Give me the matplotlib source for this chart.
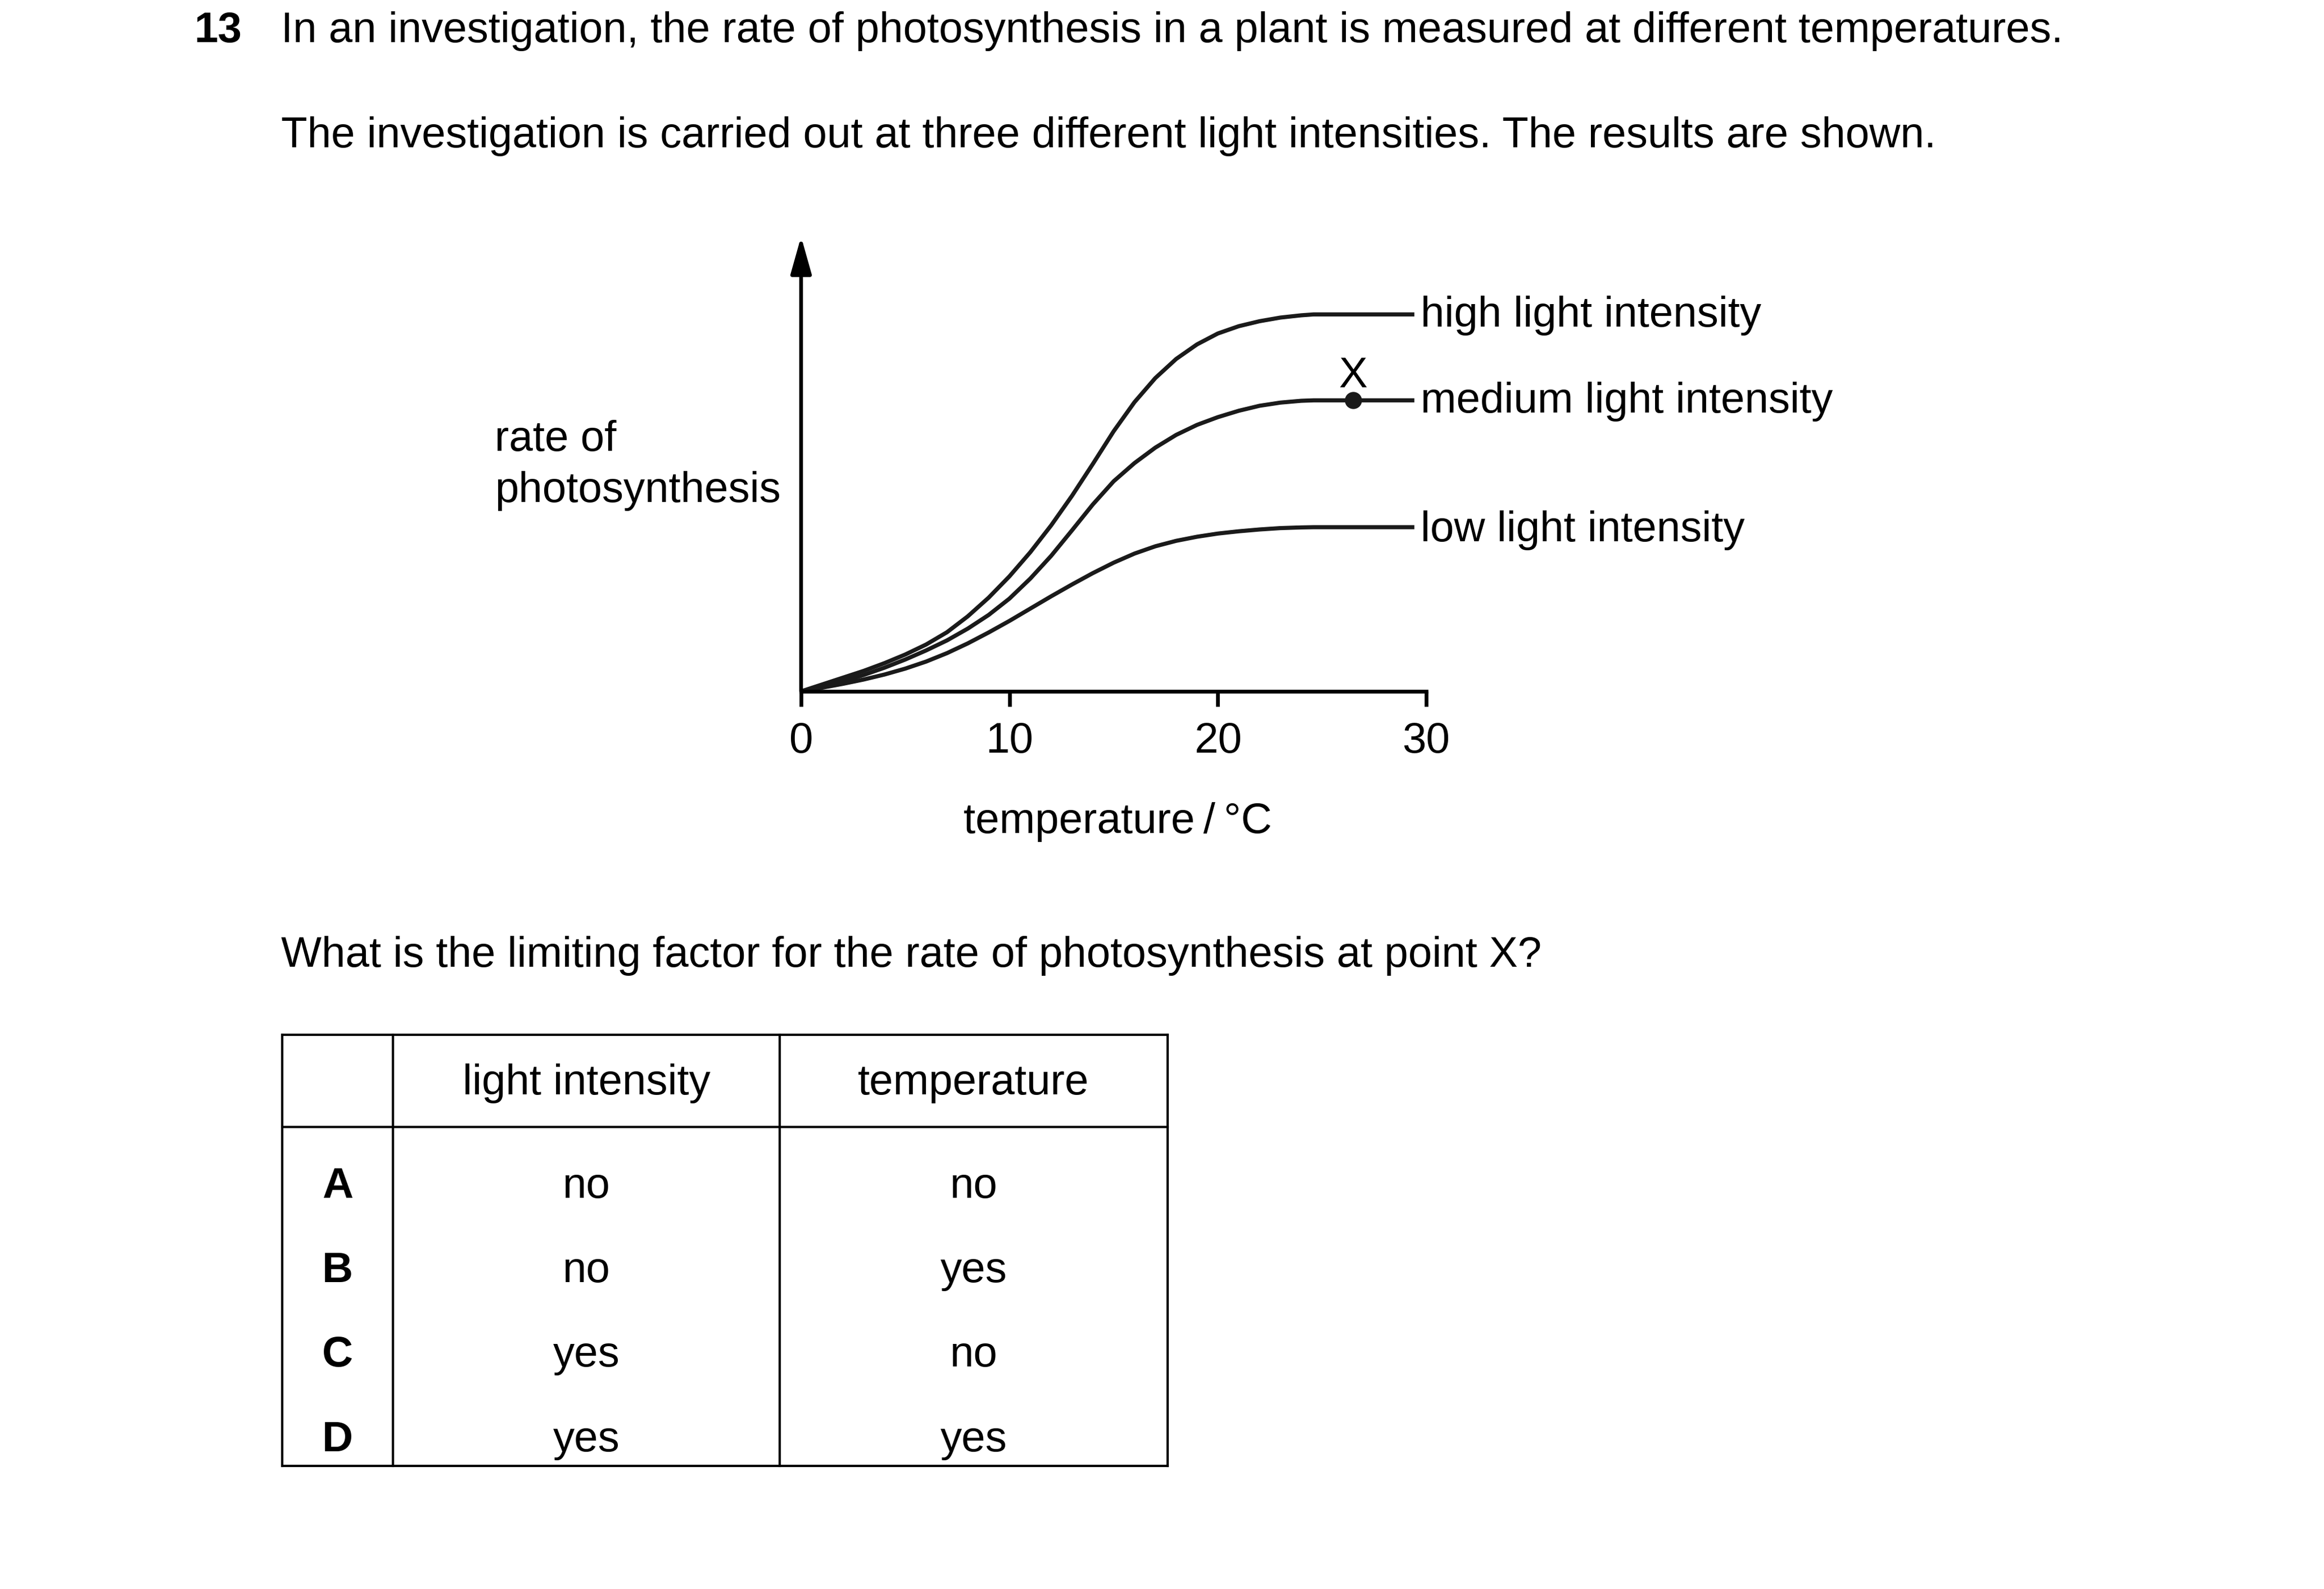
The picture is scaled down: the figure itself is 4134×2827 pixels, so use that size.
import matplotlib
matplotlib.use("Agg")
import matplotlib.pyplot as plt

plt.rcParams['font.family'] = ['Liberation Sans', 'DejaVu Sans']

# temperature / rate readings for the three curves
temps = [0, 1, 2, 3, 4, 5, 6, 7, 8, 9, 10, 11, 12, 13, 14, 15, 16, 17, 18,
         19, 20, 21, 22, 23, 24, 24.6, 29.43]
rate_high = [0, 0.15, 0.30, 0.45, 0.62, 0.81, 1.03, 1.30, 1.65, 2.06, 2.53,
             3.06, 3.65, 4.30, 5.00, 5.72, 6.36, 6.89, 7.31, 7.63, 7.87,
             8.03, 8.14, 8.22, 8.27, 8.29, 8.29]
rate_medium = [0, 0.10, 0.22, 0.36, 0.52, 0.70, 0.90, 1.12, 1.38, 1.68, 2.04,
               2.48, 2.98, 3.54, 4.11, 4.62, 5.02, 5.36, 5.64, 5.86, 6.03,
               6.17, 6.28, 6.35, 6.39, 6.40, 6.40]
rate_low = [0, 0.08, 0.165, 0.26, 0.37, 0.50, 0.655, 0.84, 1.055, 1.295, 1.55,
            1.82, 2.09, 2.35, 2.60, 2.83, 3.03, 3.19, 3.31, 3.40, 3.47,
            3.52, 3.56, 3.59, 3.605, 3.61, 3.61]
point_x = (26.5, 6.40)
xticks = [0, 10, 20, 30]
curve_labels = ['high light intensity', 'medium light intensity', 'low light intensity']

# answer table
options = ['A', 'B', 'C', 'D']
col_heads = ['light intensity', 'temperature']
light_col = ['no', 'no', 'yes', 'yes']
temp_col = ['no', 'yes', 'no', 'yes']

W, H = 4134, 2828
dpi = 300
FS = 18.3
LW = 1.75
AXLW = 1.6

fig = plt.figure(figsize=(W / dpi, H / dpi), dpi=dpi)

# page layer in pixel coordinates
page = fig.add_axes([0, 0, 1, 1])
page.set_xlim(0, W)
page.set_ylim(H, 0)
page.axis('off')

page.text(345, 75, '13', fontsize=FS, fontweight='bold', va='baseline')
page.text(500, 75, 'In an investigation, the rate of photosynthesis in a plant is '
          'measured at different temperatures.', fontsize=FS, va='baseline')
page.text(500, 262, 'The investigation is carried out at three different light '
          'intensities. The results are shown.', fontsize=FS, va='baseline')

page.text(880, 802, 'rate of', fontsize=FS, va='baseline')
page.text(880, 893, 'photosynthesis', fontsize=FS, va='baseline')
page.text(1988, 1482, 'temperature\u2009/\u2009°C', fontsize=FS, ha='center', va='baseline')

for lab, yb in zip(curve_labels, [581, 734, 963]):
    page.text(2527, yb, lab, fontsize=FS, va='baseline')
page.text(2407, 689, 'X', fontsize=FS, ha='center', va='baseline')

page.text(500, 1720, 'What is the limiting factor for the rate of photosynthesis at point X?',
          fontsize=FS, va='baseline')

# table
tx = [502, 699, 1387, 2077]
ty = [1842, 2006, 2609]
for x in tx:
    page.plot([x, x], [ty[0], ty[-1]], color='k', lw=1.0, solid_capstyle='projecting')
for y in ty:
    page.plot([tx[0], tx[-1]], [y, y], color='k', lw=1.0, solid_capstyle='projecting')
col_c = [(tx[i] + tx[i + 1]) / 2 for i in range(3)]
for c, head in zip(col_c[1:], col_heads):
    page.text(c, 1947, head, fontsize=FS, ha='center', va='baseline')
row_base = [2131, 2281, 2431, 2582]
for yb, opt, a, b in zip(row_base, options, light_col, temp_col):
    page.text(col_c[0], yb, opt, fontsize=FS, fontweight='bold', ha='center', va='baseline')
    page.text(col_c[1], yb, a, fontsize=FS, ha='center', va='baseline')
    page.text(col_c[2], yb, b, fontsize=FS, ha='center', va='baseline')

# graph
ax = fig.add_axes([1425 / W, 1 - 1231 / H, (2537 - 1425) / W, (1231 - 422) / H])
ax.patch.set_visible(False)
ax.set_xlim(0, 30)
ax.set_ylim(0, 10)
for s in ['top', 'right', 'left']:
    ax.spines[s].set_visible(False)
ax.spines['bottom'].set_linewidth(AXLW)
ax.set_xticks(xticks)
ax.set_xticklabels([str(t) for t in xticks])
ax.set_yticks([])
ax.tick_params(axis='x', direction='out', length=6.5, width=AXLW, pad=6.3, labelsize=FS)

ax.annotate('', xy=(0, 10), xytext=(0, 0), annotation_clip=False,
            arrowprops=dict(arrowstyle='-|>,head_length=1.35,head_width=0.38',
                            mutation_scale=10, color='k', lw=AXLW,
                            shrinkA=0, shrinkB=0))

for r in [rate_high, rate_medium, rate_low]:
    ax.plot(temps, r, color='#1a1a1a', lw=LW, clip_on=False,
            solid_capstyle='butt', solid_joinstyle='round')
ax.plot(*point_x, 'o', color='#1a1a1a', markersize=6.3, clip_on=False)

fig.savefig('out.png', dpi=dpi)
